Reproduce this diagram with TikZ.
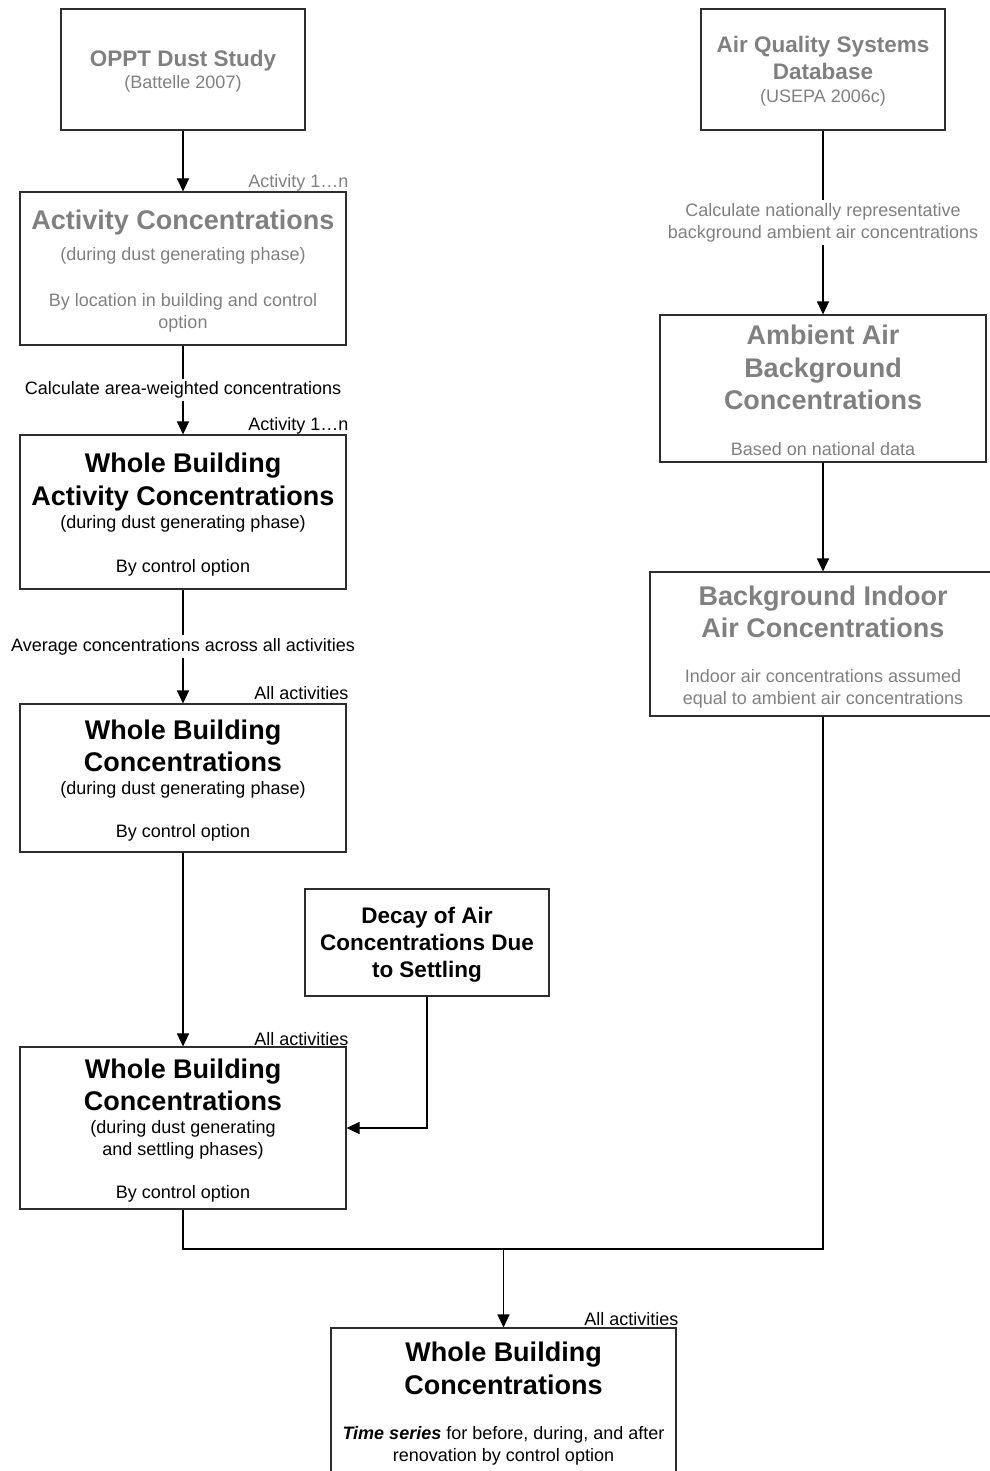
\documentclass[tikz,border=0pt]{standalone}
\usepackage{fontspec}
\setmainfont{Liberation Sans}
\usepackage{xcolor}
\usepackage{tikz}
\usetikzlibrary{arrows.meta,positioning}
\definecolor{fadetext}{RGB}{128,128,128}
\definecolor{edgeline}{RGB}{45,45,45}
\newcommand{\bigttl}[1]{{\fontsize{27}{33}\selectfont\bfseries #1}}
\newcommand{\midttl}[1]{{\fontsize{22.5}{27}\selectfont\bfseries #1}}
\newcommand{\topgap}[1]{\rule{0pt}{#1}}

\begin{document}
\begin{tikzpicture}[x=1pt,y=-1pt,>={Triangle[width=12pt,length=13pt]},
    box/.style={draw=edgeline, line width=1.1pt, align=center, inner sep=0pt,
      font={\lineskiplimit=-100pt\fontsize{18}{22}\selectfont}},
    narrowbox/.style={box, minimum width=244pt},
    widebox/.style={box, minimum width=326pt},
    tag/.style={inner sep=0pt, anchor=base east, font=\fontsize{18}{22}\selectfont},
    midlabel/.style={fill=white, inner sep=3pt, align=center, font={\lineskiplimit=-100pt\fontsize{18}{22}\selectfont}},
    link/.style={draw=black, line width=1.1pt}]
        \useasboundingbox (0,0) rectangle (989,1471);

        \node (oppt) [narrowbox, text=fadetext, minimum height=121pt] at (183,69.5) {\topgap{20.4pt}\midttl{OPPT Dust Study}\\(Battelle 2007)};
        \node (aqs) [narrowbox, text=fadetext, minimum height=121pt] at (823,69.5) {\topgap{20.4pt}\midttl{Air Quality Systems}\\[5pt]\midttl{Database}\\[1pt](USEPA 2006c)};
        \node (actconc) [widebox, text=fadetext, minimum height=153pt] at (183,268.5) {\topgap{25.7pt}\bigttl{Activity Concentrations}\\[9pt](during dust generating phase)\\[24pt]By location in building and control\\option};
        \node (wbact) [widebox, minimum height=154pt] at (183,512) {\topgap{25.7pt}\bigttl{Whole Building}\\[11pt]\bigttl{Activity Concentrations}\\[1pt](during dust generating phase)\\[22pt]By control option};
        \node (wbconc) [widebox, minimum height=148pt] at (183,778) {\topgap{24.7pt}\bigttl{Whole Building}\\[10pt]\bigttl{Concentrations}\\[1pt](during dust generating phase)\\[21pt]By control option};
        \node (decay) [narrowbox, minimum height=107pt] at (427,942.5) {\topgap{20.4pt}\midttl{Decay of Air}\\[5pt]\midttl{Concentrations Due}\\[5pt]\midttl{to Settling}};
        \node (wbsettle) [widebox, minimum height=162pt] at (183,1128) {\topgap{24.7pt}\bigttl{Whole Building}\\[10pt]\bigttl{Concentrations}\\[1pt](during dust generating\\and settling phases)\\[21pt]By control option};
        \node (wbtime) [box, minimum width=345pt, minimum height=146pt] at (503.5,1401) {\topgap{23.7pt}\bigttl{Whole Building}\\[11pt]\bigttl{Concentrations}\\[23pt]\textbf{\textit{Time series}} for before, during, and after\\renovation by control option};
        \node (ambient) [widebox, text=fadetext, minimum height=147pt] at (823,388.5) {\topgap{22.9pt}\bigttl{Ambient Air}\\[11pt]\bigttl{Background}\\[10pt]\bigttl{Concentrations}\\[24pt]Based on national data};
        \node (bgindoor) [box, text=fadetext, minimum width=346pt, minimum height=144pt] at (823,644) {\topgap{26.7pt}\bigttl{Background Indoor}\\[10pt]\bigttl{Air Concentrations}\\[23pt]Indoor air concentrations assumed\\equal to ambient air concentrations};

        \node (tagact) [tag, text=fadetext] at ([xshift=2pt,yshift=4pt]actconc.north east) {Activity 1…n};
        \node (tagwbact) [tag] at ([xshift=2pt,yshift=4pt]wbact.north east) {Activity 1…n};
        \node (tagwbconc) [tag] at ([xshift=2pt,yshift=4pt]wbconc.north east) {All activities};
        \node (tagwbsettle) [tag] at ([xshift=2pt,yshift=1pt]wbsettle.north east) {All activities};
        \node (tagwbtime) [tag] at ([xshift=2pt,yshift=2pt]wbtime.north east) {All activities};

        \draw[link,->] (oppt) -- (actconc);
        \draw[link,->] (actconc) -- node[midlabel] (areanote) {Calculate area-weighted concentrations} (wbact);
        \draw[link,->] (wbact) -- node[midlabel] (avgnote) {Average concentrations across all activities} (wbconc);
        \draw[link,->] (wbconc) -- (wbsettle);
        \draw[link,->] (decay.south) |- (wbsettle.east);
        \draw[link,->] (aqs) -- node[midlabel, text=fadetext] (natnote) {Calculate nationally representative\\background ambient air concentrations} (ambient);
        \draw[link,->] (ambient) -- (bgindoor);

        \coordinate (merge) at (503.5,1249);
        \draw[link] (wbsettle.south) |- (merge);
        \draw[link] (bgindoor.south) |- (merge);
        \draw[link,->] (merge) -- (wbtime.north);
\end{tikzpicture}
\end{document}
